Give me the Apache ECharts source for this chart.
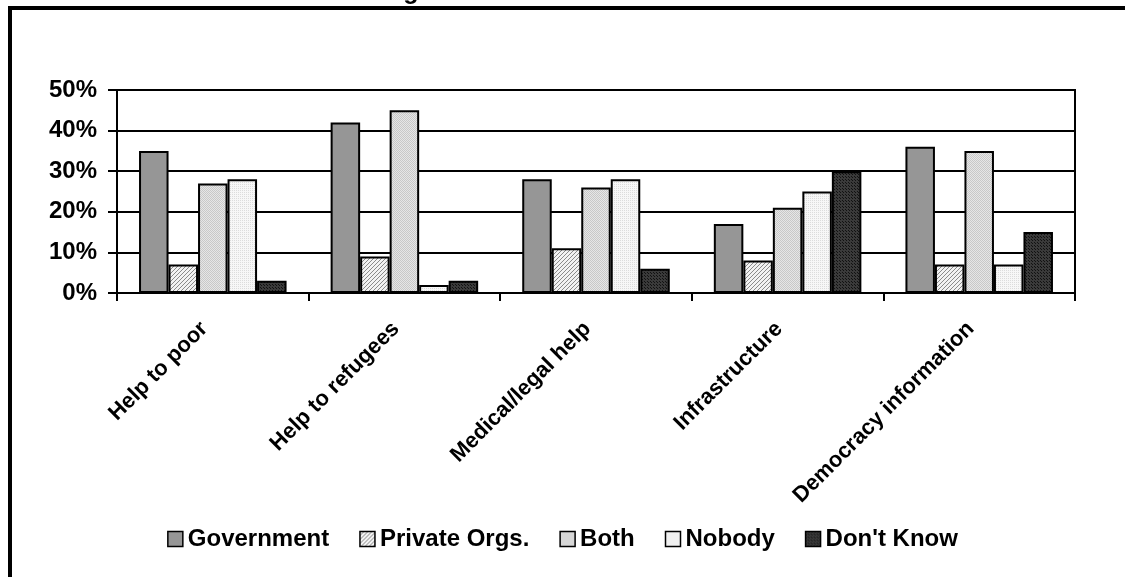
<!DOCTYPE html>
<html>
<head>
  <meta charset="utf-8">
  <title>Public Service Actors</title>
  <script src="https://cdn.jsdelivr.net/npm/echarts@6/dist/echarts.min.js"></script>
</head>
<style>
  html, body { margin: 0; padding: 0; background: #fff; }
  #chart { width: 1125px; height: 577px; }
</style>
<body>
  <div id="chart"></div>
  <script>
    // data
    const categories = ['Help to poor', 'Help to refugees', 'Medical/legal help', 'Infrastructure', 'Democracy information'];
    const seriesNames = ['Government', 'Private Orgs.', 'Both', 'Nobody', "Don't Know"];
    const government = [35, 42, 28, 17, 36];
    const privateOrgs = [7, 9, 11, 8, 7];
    const both = [27, 45, 26, 21, 35];
    const nobody = [28, 2, 28, 25, 7];
    const dontKnow = [3, 3, 6, 30, 15];
    const yTicks = [0, 10, 20, 30, 40, 50];

    // small canvas tiles to imitate the excel fill patterns
    function tile(size, draw) {
      const c = document.createElement('canvas');
      c.width = size; c.height = size;
      draw(c.getContext('2d'));
      return { image: c, repeat: 'repeat' };
    }
    const hatch = tile(4, ctx => {
      ctx.fillStyle = '#f2f2f2'; ctx.fillRect(0, 0, 4, 4);
      ctx.fillStyle = '#8a8a8a';
      for (let i = 0; i < 4; i++) ctx.fillRect(i, 3 - i, 1, 1);
    });
    const dotsLight = tile(2, ctx => {
      ctx.fillStyle = '#e6e6e6'; ctx.fillRect(0, 0, 2, 2);
      ctx.fillStyle = '#c8c8c8'; ctx.fillRect(0, 0, 1, 1); ctx.fillRect(1, 1, 1, 1);
    });
    const dotsPale = tile(2, ctx => {
      ctx.fillStyle = '#f7f7f7'; ctx.fillRect(0, 0, 2, 2);
      ctx.fillStyle = '#dcdcdc'; ctx.fillRect(0, 0, 1, 1);
    });
    const dotsDark = tile(3, ctx => {
      ctx.fillStyle = '#3a3a3a'; ctx.fillRect(0, 0, 3, 3);
      ctx.fillStyle = '#111'; ctx.fillRect(0, 0, 1, 1); ctx.fillRect(2, 2, 1, 1);
    });

    const fills = ['#969696', hatch, dotsLight, dotsPale, dotsDark];
    const values = [government, privateOrgs, both, nobody, dontKnow];

    const font = 'Liberation Sans, Arial, sans-serif';
    const chart = echarts.init(document.getElementById('chart'));
    chart.setOption({
      animation: false,
      title: {
        text: 'Figure 11: Public Service Actors',
        left: 376,
        top: -25,
        textStyle: { fontFamily: font, fontSize: 25, fontWeight: 'bold', color: '#000' }
      },
      graphic: [{
        type: 'rect',
        shape: { x: 10, y: 8, width: 1300, height: 700 },
        style: { fill: 'none', stroke: '#000', lineWidth: 4 }
      }],
      grid: { left: 117, right: 50, top: 90, bottom: 284, show: true, borderColor: '#000', borderWidth: 2 },
      legend: {
        data: seriesNames,
        top: 522,
        left: 'center',
        icon: 'rect',
        itemWidth: 15,
        itemHeight: 15,
        itemGap: 30,
        itemStyle: { borderColor: '#000', borderWidth: 1.5 },
        textStyle: { fontFamily: font, fontSize: 24, fontWeight: 'bold', color: '#000' }
      },
      xAxis: {
        type: 'category',
        data: categories,
        axisLine: { lineStyle: { color: '#000', width: 2 } },
        axisTick: { show: true, length: 8, lineStyle: { color: '#000', width: 2 } },
        axisLabel: {
          rotate: 45, margin: 24, padding: [0, 12, 0, 0],
          fontFamily: font, fontSize: 22, fontWeight: 'bold', color: '#000'
        }
      },
      yAxis: {
        type: 'value',
        min: 0, max: 50, interval: 10,
        axisLine: { show: true, lineStyle: { color: '#000', width: 2 } },
        axisTick: { show: true, length: 9, lineStyle: { color: '#000', width: 2 } },
        splitLine: { lineStyle: { color: '#000', width: 2 } },
        axisLabel: {
          margin: 20, fontFamily: font, fontSize: 24, fontWeight: 'bold', color: '#000',
          formatter: v => yTicks.includes(v) ? v + '%' : ''
        }
      },
      series: seriesNames.map((name, i) => ({
        name: name,
        type: 'bar',
        data: values[i],
        barGap: '0%',
        barCategoryGap: '23%',
        itemStyle: { color: fills[i], borderColor: '#000', borderWidth: 2 }
      }))
    });
  </script>
</body>
</html>
